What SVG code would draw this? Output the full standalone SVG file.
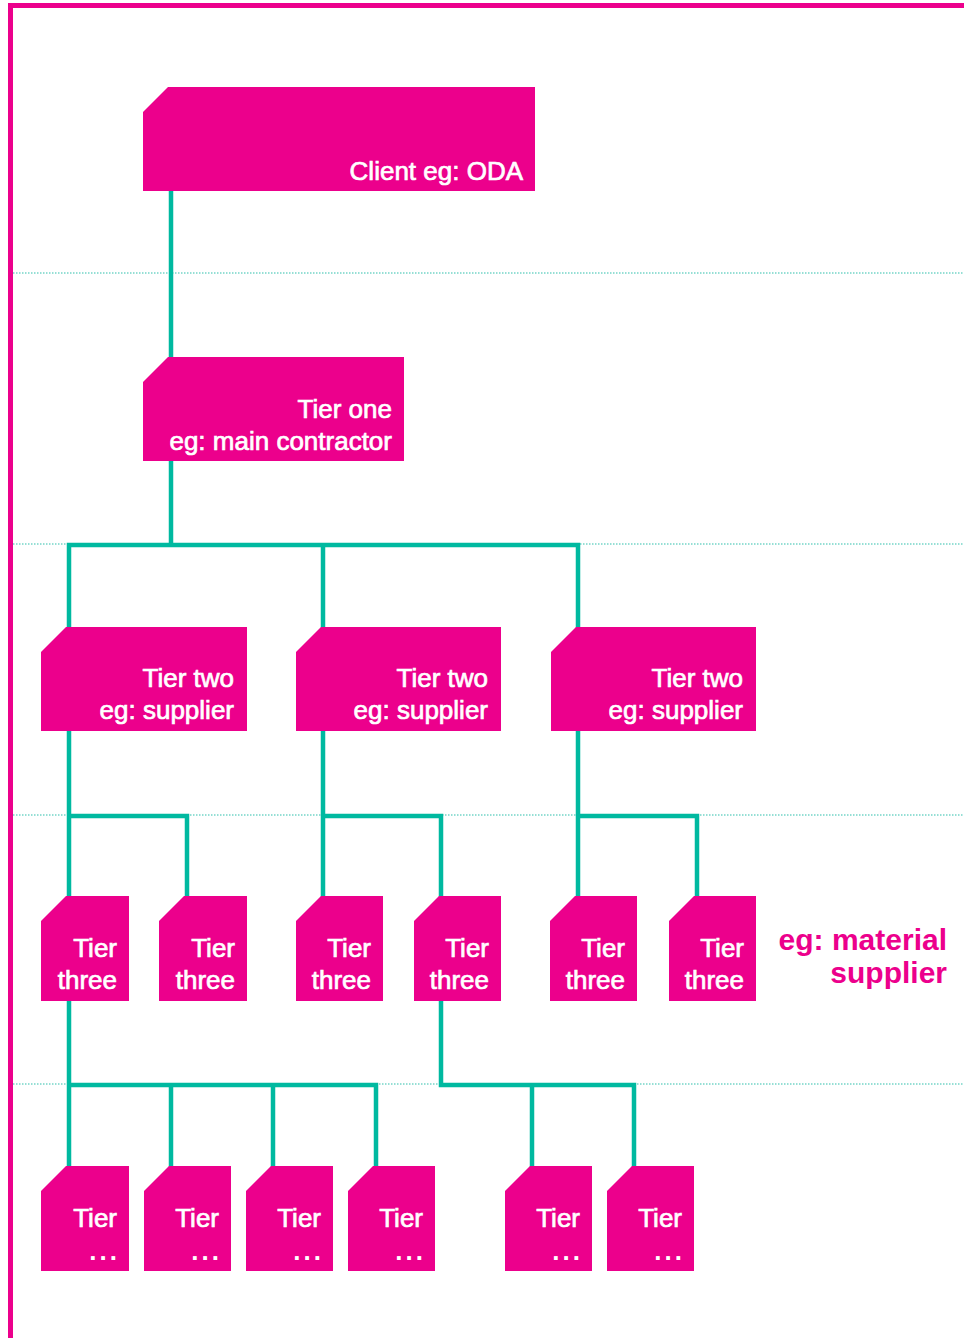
<svg xmlns="http://www.w3.org/2000/svg" width="964" height="1338" viewBox="0 0 964 1338">
<style>
.box{fill:#EC008C}
.t{font-family:"Liberation Sans",Arial,sans-serif;font-size:26px;fill:#fff;stroke:#fff;stroke-width:0.7;text-anchor:end}
.dots{font-family:"Liberation Sans",Arial,sans-serif;font-size:26px;font-weight:bold;fill:#fff;text-anchor:end;letter-spacing:3px}
.c{fill:none;stroke:#00B9A0;stroke-width:4.5;stroke-linejoin:miter;stroke-linecap:butt}
.d{stroke:#2EC0AC;stroke-width:1.2;stroke-dasharray:1.5 1.5}
.note{font-family:"Liberation Sans",Arial,sans-serif;font-size:30px;font-weight:bold;fill:#EC008C;text-anchor:end}
</style>
<rect width="964" height="1338" fill="#fff"/>
<g id="frame">
<rect x="8" y="3" width="5" height="1335" fill="#EC008C"/>
<rect x="8" y="3" width="956" height="5" fill="#EC008C"/>
</g>
<g id="guides">
<line class="d" x1="13" y1="273" x2="964" y2="273"/>
<line class="d" x1="13" y1="544" x2="964" y2="544"/>
<line class="d" x1="13" y1="815" x2="964" y2="815"/>
<line class="d" x1="13" y1="1084" x2="964" y2="1084"/>
</g>
<g id="connectors">
<path class="c" d="M171,190 V358"/>
<path class="c" d="M171,460 V545"/>
<path class="c" d="M69,628 V545 H578 V628"/>
<path class="c" d="M323,545 V628"/>
<path class="c" d="M69,730 V897"/>
<path class="c" d="M69,816 H187 V897"/>
<path class="c" d="M323,730 V897"/>
<path class="c" d="M323,816 H441 V897"/>
<path class="c" d="M578,730 V897"/>
<path class="c" d="M578,816 H697 V897"/>
<path class="c" d="M69,1000 V1167"/>
<path class="c" d="M69,1085 H376 V1167"/>
<path class="c" d="M171,1085 V1167"/>
<path class="c" d="M273,1085 V1167"/>
<path class="c" d="M441,1000 V1085 H634 V1167"/>
<path class="c" d="M532,1085 V1167"/>
</g>
<g id="client">
<path class="box" d="M168,87 H535 V191 H143 V112 Z"/>
<text class="t" x="523" y="180">Client eg: ODA</text>
</g>
<g id="tier-one">
<path class="box" d="M168,357 H404 V461 H143 V382 Z"/>
<text class="t" x="392" y="418">Tier one</text>
<text class="t" x="392" y="450">eg: main contractor</text>
</g>
<g id="tier-two-1">
<path class="box" d="M66,627 H247 V731 H41 V652 Z"/>
<text class="t" x="234" y="687">Tier two</text>
<text class="t" x="234" y="719">eg: supplier</text>
</g>
<g id="tier-two-2">
<path class="box" d="M321,627 H501 V731 H296 V652 Z"/>
<text class="t" x="488" y="687">Tier two</text>
<text class="t" x="488" y="719">eg: supplier</text>
</g>
<g id="tier-two-3">
<path class="box" d="M576,627 H756 V731 H551 V652 Z"/>
<text class="t" x="743" y="687">Tier two</text>
<text class="t" x="743" y="719">eg: supplier</text>
</g>
<g id="tier-three-1">
<path class="box" d="M66,896 H129 V1001 H41 V921 Z"/>
<text class="t" x="117" y="957">Tier</text>
<text class="t" x="117" y="989">three</text>
</g>
<g id="tier-three-2">
<path class="box" d="M184,896 H247 V1001 H159 V921 Z"/>
<text class="t" x="235" y="957">Tier</text>
<text class="t" x="235" y="989">three</text>
</g>
<g id="tier-three-3">
<path class="box" d="M321,896 H383 V1001 H296 V921 Z"/>
<text class="t" x="371" y="957">Tier</text>
<text class="t" x="371" y="989">three</text>
</g>
<g id="tier-three-4">
<path class="box" d="M439,896 H501 V1001 H414 V921 Z"/>
<text class="t" x="489" y="957">Tier</text>
<text class="t" x="489" y="989">three</text>
</g>
<g id="tier-three-5">
<path class="box" d="M575,896 H637 V1001 H550 V921 Z"/>
<text class="t" x="625" y="957">Tier</text>
<text class="t" x="625" y="989">three</text>
</g>
<g id="tier-three-6">
<path class="box" d="M694,896 H756 V1001 H669 V921 Z"/>
<text class="t" x="744" y="957">Tier</text>
<text class="t" x="744" y="989">three</text>
</g>
<g id="tier-n-1">
<path class="box" d="M66,1166 H129 V1271 H41 V1191 Z"/>
<text class="t" x="117" y="1227">Tier</text>
<text class="dots" x="120" y="1260">...</text>
</g>
<g id="tier-n-2">
<path class="box" d="M169,1166 H231 V1271 H144 V1191 Z"/>
<text class="t" x="219" y="1227">Tier</text>
<text class="dots" x="222" y="1260">...</text>
</g>
<g id="tier-n-3">
<path class="box" d="M271,1166 H333 V1271 H246 V1191 Z"/>
<text class="t" x="321" y="1227">Tier</text>
<text class="dots" x="324" y="1260">...</text>
</g>
<g id="tier-n-4">
<path class="box" d="M373,1166 H435 V1271 H348 V1191 Z"/>
<text class="t" x="423" y="1227">Tier</text>
<text class="dots" x="426" y="1260">...</text>
</g>
<g id="tier-n-5">
<path class="box" d="M530,1166 H592 V1271 H505 V1191 Z"/>
<text class="t" x="580" y="1227">Tier</text>
<text class="dots" x="583" y="1260">...</text>
</g>
<g id="tier-n-6">
<path class="box" d="M632,1166 H694 V1271 H607 V1191 Z"/>
<text class="t" x="682" y="1227">Tier</text>
<text class="dots" x="685" y="1260">...</text>
</g>
<g id="note">
<text class="note" x="947" y="950">eg: material</text>
<text class="note" x="947" y="983">supplier</text>
</g>
</svg>
